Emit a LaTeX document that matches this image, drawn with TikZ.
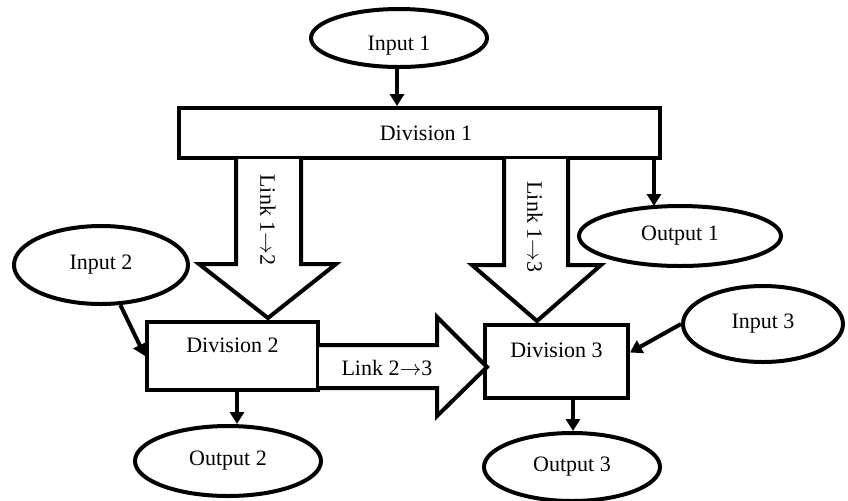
\documentclass[tikz,border=0pt]{standalone}
\usepackage{fontspec}
\setmainfont{Liberation Serif}
\usetikzlibrary{shapes.geometric,arrows.meta,calc}
\begin{document}
\begin{tikzpicture}[x=0.5pt,y=-0.5pt,
  every node/.style={font=\fontsize{11pt}{13pt}\selectfont},
  ell/.style={draw,ellipse,line width=2pt,inner sep=0pt},
  divbox/.style={draw,rectangle,line width=2pt,inner sep=0pt},
  divtop/.style={text height=8pt,text depth=12pt},
  arr/.style={line width=2pt,-{Triangle[length=6pt,width=7pt]}},
  bigarrow/.style={draw,fill=white,line width=2pt,line join=miter}]
\useasboundingbox (0,0) rectangle (848,500);
\clip (0,0) rectangle (848,500);
% nodes
\node[ell,minimum width=88pt,minimum height=29pt,text height=12pt,text depth=0pt] (in1) at (399,38) {Input 1};
\node[divbox,minimum width=240.5pt,minimum height=25pt] (d1) at (419.5,133) {\hspace*{6.5pt}Division 1};
\node[ell,minimum width=87pt,minimum height=39pt] (in2) at (101,265) {Input 2};
\node[divbox,divtop,minimum width=85.5pt,minimum height=34pt] (d2) at (232.5,356) {Division 2};
\node[divbox,divtop,minimum width=71.5pt,minimum height=36.5pt] (d3) at (556.5,361.5) {Division 3};
\node[ell,minimum width=101pt,minimum height=30pt] (out1) at (680,236) {Output 1};
\node[ell,minimum width=80pt,minimum height=38pt] (in3) at (763,324) {Input 3};
\node[ell,minimum width=93pt,minimum height=35pt] (out2) at (228,461) {Output 2};
\node[ell,minimum width=88pt,minimum height=34pt] (out3) at (572,467) {Output 3};
% big arrows
\draw[bigarrow] (236,159) -- (236,264) -- (199,264) -- (268,318) -- (336,264) -- (301,264) -- (301,159);
\node[rotate=-90] (l12) at (268,220) {Link 1$\rightarrow$2};
\draw[bigarrow] (504,159) -- (504,265) -- (472,265) -- (537,321) -- (601,265) -- (568,265) -- (568,159);
\node[rotate=-90] (l13) at (535,227) {Link 1$\rightarrow$3};
\draw[bigarrow] (319,345) -- (437,345) -- (437,317) -- (487,367) -- (437,416) -- (437,388) -- (319,388);
\node (l23) at (387,368) {Link 2$\rightarrow$3};
% connectors
\draw[arr] (in1.south -| 397,0) -- (d1.north -| 397,0);
\draw[arr] ($(d1.south east)+(-8,0)$) -- ($(d1.south east)+(-8,46)$);
\draw[arr] (in2) -- (d2.west);
\draw[arr] (in3.west) -- ([yshift=4.5pt]d3.east);
\draw[arr] (d2.south -| 237,0) -- (out2.north -| 237,0);
\draw[arr] (d3.south -| 573,0) -- (out3.north -| 573,0);
\end{tikzpicture}
\end{document}
